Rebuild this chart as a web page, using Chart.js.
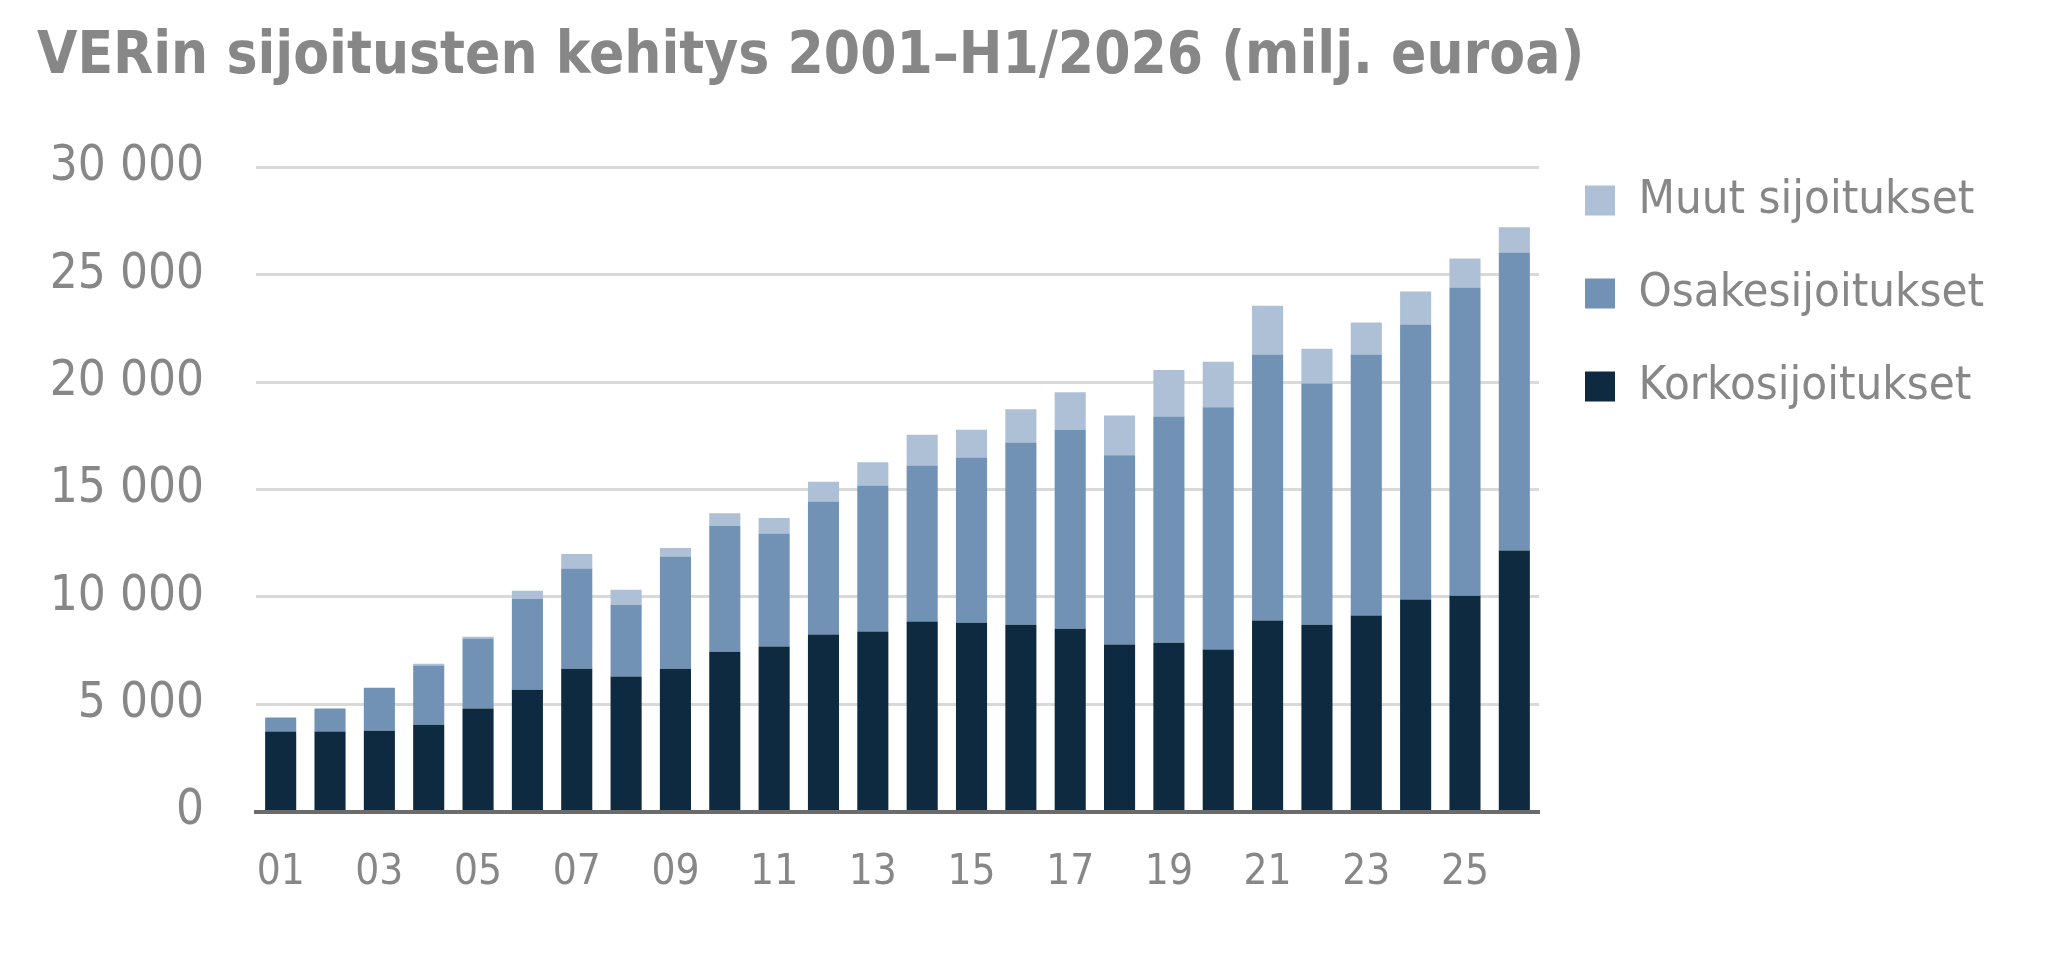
<!DOCTYPE html>
<html>
<head>
<meta charset="utf-8">
<script src="https://cdn.jsdelivr.net/npm/chart.js@4/dist/chart.umd.min.js"></script>
<style>
    body { margin: 0; background: #fff; }
    #wrap { width: 2059px; height: 980px; }
</style>
</head>
<body>
<div id="wrap"><canvas id="myChart"></canvas></div>
<script>
const years = ['01', '02', '03', '04', '05', '06', '07', '08', '09', '10', '11', '12', '13',
    '14', '15', '16', '17', '18', '19', '20', '21', '22', '23', '24', '25', '26']
const korko = [3730, 3730, 3770, 4050, 4800, 5680, 6660, 6290, 6660, 7450, 7690, 8250, 8390,
    8850, 8800, 8710, 8520, 7780, 7870, 7550, 8900, 8710, 9130, 9880, 10060, 12160]
const osake = [650, 1070, 2000, 2760, 3260, 4240, 4660, 3350, 5220, 5870, 5260, 6190, 6800,
    7270, 7690, 8480, 9270, 8820, 10540, 11290, 12390, 11230, 12160, 12810, 14360, 13880]
const muut = [0, 0, 0, 80, 90, 370, 680, 700, 400, 580, 730, 920, 1080,
    1440, 1300, 1550, 1740, 1850, 2160, 2110, 2270, 1620, 1490, 1540, 1340, 1180]
const seriesNames = ['Korkosijoitukset', 'Osakesijoitukset', 'Muut sijoitukset']
const yTicks = [0, 5000, 10000, 15000, 20000, 25000, 30000]

const family = "'DejaVu Sans Condensed', 'DejaVu Sans', sans-serif"
const grey = '#878787'

// legend sits right of the plot, work out how wide it gets so the plot ends near x=1545
const legendSize = 47
const legendPad = 46
const m = document.createElement('canvas').getContext('2d')
m.font = legendSize + 'px ' + family
const textW = Math.max(...seriesNames.map((n) => m.measureText(n).width))
const legendW = legendPad + 30 + legendSize / 2 + textW + 10

const fmt = (v) => String(v).replace(/\B(?=(\d{3})+(?!\d))/g, ' ')

const ctx = document.getElementById('myChart').getContext('2d')
new Chart(ctx, {
    type: 'bar',
    data: {
        labels: years,
        datasets: [
            { label: seriesNames[0], data: korko, backgroundColor: '#0e2a40' },
            { label: seriesNames[1], data: osake, backgroundColor: '#7192b5' },
            { label: seriesNames[2], data: muut, backgroundColor: '#adc0d6' },
        ],
    },
    options: {
        responsive: true,
        maintainAspectRatio: false,
        animation: false,
        categoryPercentage: 1,
        barPercentage: 0.63,
        layout: {
            padding: { left: 37, right: 2059 - 1545 - legendW + 6, top: 0, bottom: 46 },
        },
        plugins: {
            title: {
                display: true,
                text: 'VERin sijoitusten kehitys 2001–H1/2026 (milj. euroa)',
                align: 'start',
                color: grey,
                font: { family: family, size: 58, weight: 'bold' },
                padding: { top: 23, bottom: 75 },
            },
            legend: {
                position: 'right',
                align: 'start',
                reverse: true,
                // empty title only pushes the items down next to the plot
                title: { display: true, text: '', font: { size: 10 }, padding: { top: 119, bottom: 0 } },
                labels: {
                    boxWidth: 30,
                    boxHeight: 30,
                    padding: legendPad,
                    color: grey,
                    font: { family: family, size: legendSize },
                },
            },
            tooltip: { enabled: false },
        },
        scales: {
            x: {
                stacked: true,
                grid: { display: false, drawTicks: false },
                border: { display: true, color: '#6b6b6b', width: 4 },
                ticks: {
                    autoSkip: false,
                    maxRotation: 0,
                    padding: 36,
                    color: grey,
                    font: { family: family, size: 42 },
                    callback: (v, i) => (i % 2 === 0 ? years[i] : ''),
                },
            },
            y: {
                stacked: true,
                min: 0,
                max: 30000,
                afterFit: (s) => { s.width = 256 - 37 },
                afterBuildTicks: (s) => { s.ticks = yTicks.map((v) => ({ value: v })) },
                grid: { color: '#d9d9d9', lineWidth: 3, drawTicks: false },
                border: { display: false },
                ticks: {
                    padding: 52,
                    color: grey,
                    font: { family: family, size: 49 },
                    callback: (v) => fmt(v),
                },
            },
        },
    },
})
</script>
</body>
</html>
